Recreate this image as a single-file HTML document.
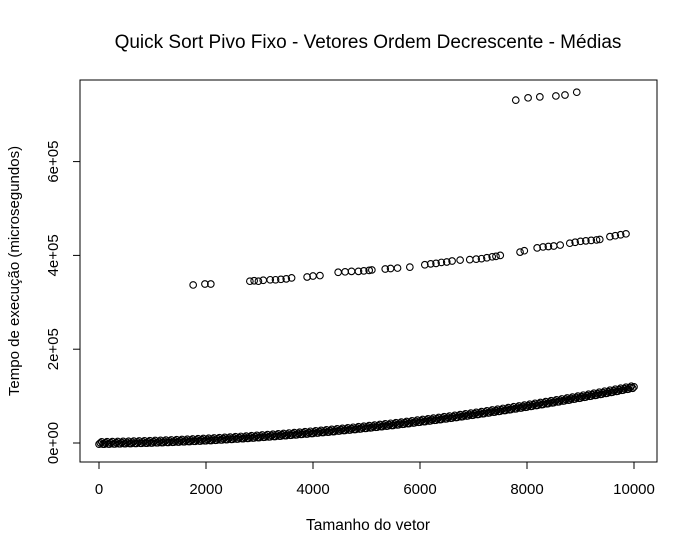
<!DOCTYPE html>
<html><head><meta charset="utf-8"><style>
body{margin:0;background:#fff}
svg text{font-family:"Liberation Sans",Arial,sans-serif;fill:#000}
</style></head><body>
<svg id="chart" width="697" height="555" xmlns="http://www.w3.org/2000/svg">
<rect width="697" height="555" fill="#fff"/>
<text x="368" y="48" font-size="19" text-anchor="middle">Quick Sort Pivo Fixo - Vetores Ordem Decrescente - Médias</text>
<rect x="80" y="80" width="577" height="382" fill="none" stroke="#000" stroke-width="1"/>
<text x="368" y="530" font-size="15.5" text-anchor="middle">Tamanho do vetor</text>
<text transform="translate(19,271) rotate(-90)" font-size="15" text-anchor="middle">Tempo de execução (microsegundos)</text>
<g id="axes"></g>
<g id="points"></g>
</svg>
<script>
const xTicks=[0,2000,4000,6000,8000,10000];
const yTicks=[0,200000,400000,600000];
const yTickLabels=["0e+00","2e+05","4e+05","6e+05"];
const mainStep=100;
const mainValuesK=[0,0.17,0.36,0.57,0.80,1.05,1.32,1.62,1.93,2.26,2.62,3.00,3.39,3.81,4.25,4.71,5.19,5.69,6.21,6.76,7.32,7.90,8.51,9.14,9.78,10.45,11.14,11.85,12.58,13.33,14.10,14.89,15.71,16.54,17.39,18.27,19.17,20.08,21.02,21.98,22.96,23.96,24.98,26.02,27.09,28.17,29.27,30.40,31.55,32.71,33.90,35.11,36.34,37.59,38.86,40.15,41.46,42.80,44.15,45.52,46.92,48.34,49.77,51.23,52.71,54.21,55.73,57.27,58.83,60.42,62.02,63.64,65.29,66.96,68.64,70.35,72.08,73.83,75.60,77.39,79.20,81.03,82.89,84.76,86.65,88.57,90.51,92.46,94.44,96.44,98.46,100.50,102.56,104.64,106.75,108.87,111.01,113.18,115.37,117.57,119.80];
const mainSpreadK=[-2.5,0,2.5];
const midX=[1760,1980,2090,2820,2900,2980,3070,3200,3300,3400,3500,3600,3890,4000,4130,4470,4600,4720,4850,4950,5050,5100,5350,5450,5580,5810,6090,6200,6300,6400,6500,6600,6750,6930,7050,7150,7250,7350,7420,7500,7870,7950,8190,8300,8400,8500,8620,8800,8900,9000,9100,9200,9300,9360,9550,9650,9750,9850];
const midY=[337,339,339,345,346,345,347,348,348,349,350,352,354,356,357,364,365,366,366,367,368,369,371,372,373,375,380,382,383,385,386,388,390,391,392,393,395,397,398,400,407,410,416,418,419,420,422,426,428,430,431,432,433,434,440,442,444,446];
const topX=[7790,8020,8240,8540,8710,8930];
const topY=[731,736,738,740,742,748];
const NS="http://www.w3.org/2000/svg";
function xs(n){return 99+n*0.0535;}
function ys(v){return 443-v*0.000469;}
const axes=document.getElementById('axes');
const pts=document.getElementById('points');
function mk(tag,attrs,parent){const e=document.createElementNS(NS,tag);for(const k in attrs)e.setAttribute(k,attrs[k]);parent.appendChild(e);return e;}
let xl=mk('line',{x1:xs(0),x2:xs(10000),y1:462,y2:462,stroke:'#000'},axes);


xTicks.forEach(t=>{
 const l=mk('line',{x1:xs(t),x2:xs(t),y1:462,y2:469,stroke:'#000'},axes);
 
 
 const tx=mk('text',{x:xs(t),y:494,'font-size':15,'text-anchor':'middle'},axes);
 tx.textContent=t;
 
 
});
let yl=mk('line',{x1:80,x2:80,y1:ys(0),y2:ys(600000),stroke:'#000'},axes);


yTicks.forEach((t,i)=>{
 const l=mk('line',{x1:73,x2:80,y1:ys(t),y2:ys(t),stroke:'#000'},axes);
 
 
 const tx=mk('text',{transform:`translate(58,${ys(t)}) rotate(-90)`,'font-size':15,'text-anchor':'middle'},axes);
 tx.textContent=yTickLabels[i];
 
 
});
function pt(n,v){
 const c=mk('circle',{cx:xs(n),cy:ys(v),r:3.3,fill:'none',stroke:'#000','stroke-width':1.1},pts);
 
 
}
mainValuesK.forEach((v,i)=>{
 if(i<mainValuesK.length-1){
  const nv=mainValuesK[i+1];
  [0,0.25,0.5,0.75].forEach((f,j)=>{
   const s=mainSpreadK[j%3];
   pt(i*mainStep+f*mainStep,(v+(nv-v)*f+s)*1000);
  });
 } else pt(i*mainStep,v*1000);
});
midX.forEach((n,i)=>pt(n,midY[i]*1000));
topX.forEach((n,i)=>pt(n,topY[i]*1000));
</script>
</body></html>
